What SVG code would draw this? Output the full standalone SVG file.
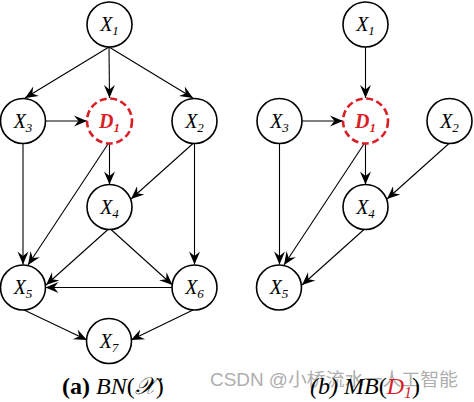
<svg xmlns="http://www.w3.org/2000/svg" width="474" height="402" viewBox="0 0 474 402">
<defs>
<marker id="ah" markerUnits="userSpaceOnUse" markerWidth="16" markerHeight="14" viewBox="-14 -7 16 14" refX="0" refY="0" orient="auto">
<path d="M0,0 L-13,-5.5 L-8.5,0 L-13,5.5 Z" fill="#000"/>
</marker>
</defs>
<style>
.n{fill:#fff;stroke:#000;stroke-width:1.6}
.d{fill:#fff;stroke:#d91f26;stroke-width:2.6;stroke-dasharray:7 3.6}
.l{font-family:"Liberation Serif",serif;font-style:italic;font-size:20px;fill:#000;text-anchor:middle}
.dl{font-family:"Liberation Serif",serif;font-style:italic;font-weight:bold;font-size:20px;fill:#d91f26;text-anchor:middle}
.s{font-size:13px}
.e line{stroke:#000;stroke-width:1.1;marker-end:url(#ah)}
.cap{font-family:"Liberation Serif",serif;font-size:24px;fill:#000}
</style>
<rect width="474" height="402" fill="#fff"/>
<g class="e" id="connectors">
<line x1="109" y1="47" x2="25" y2="98"/>
<line x1="109" y1="47" x2="109.5" y2="98"/>
<line x1="109" y1="47" x2="193" y2="98"/>
<line x1="45.5" y1="121" x2="87" y2="121"/>
<line x1="23" y1="143.5" x2="23" y2="264.5"/>
<line x1="109.5" y1="143.5" x2="109.5" y2="184.5"/>
<line x1="108" y1="144" x2="28" y2="265"/>
<line x1="193" y1="143.5" x2="131" y2="199"/>
<line x1="194.5" y1="143.5" x2="194.5" y2="264.5"/>
<line x1="108" y1="229.5" x2="46" y2="285"/>
<line x1="111" y1="229.5" x2="172.5" y2="285"/>
<line x1="172" y1="287.5" x2="45.5" y2="287.5"/>
<line x1="23" y1="309.5" x2="87" y2="340"/>
<line x1="193" y1="310" x2="131" y2="340"/>
<line x1="365.5" y1="47" x2="365.5" y2="98"/>
<line x1="302" y1="121" x2="343" y2="121"/>
<line x1="279.5" y1="143.5" x2="279.5" y2="264.5"/>
<line x1="365.5" y1="143.5" x2="365.5" y2="184.5"/>
<line x1="364" y1="144" x2="284" y2="265"/>
<line x1="449" y1="143.5" x2="387" y2="199"/>
<line x1="364" y1="229.5" x2="302" y2="285"/>
</g>
<g id="a_X1"><circle class="n" cx="109.5" cy="24.5" r="22.5"/><text class="l" x="109.5" y="31">X<tspan class="s" dy="4">1</tspan></text></g>
<g id="a_X3"><circle class="n" cx="23" cy="121" r="22.5"/><text class="l" x="23" y="127.5">X<tspan class="s" dy="4">3</tspan></text></g>
<g id="a_D1"><circle class="d" cx="109.5" cy="121" r="22.5"/><text class="dl" x="109.5" y="127.5">D<tspan class="s" dy="4">1</tspan></text></g>
<g id="a_X2"><circle class="n" cx="194.5" cy="121" r="22.5"/><text class="l" x="194.5" y="127.5">X<tspan class="s" dy="4">2</tspan></text></g>
<g id="a_X4"><circle class="n" cx="109.5" cy="207" r="22.5"/><text class="l" x="109.5" y="213.5">X<tspan class="s" dy="4">4</tspan></text></g>
<g id="a_X5"><circle class="n" cx="23" cy="287.5" r="22.5"/><text class="l" x="23" y="294">X<tspan class="s" dy="4">5</tspan></text></g>
<g id="a_X6"><circle class="n" cx="194.5" cy="287.5" r="22.5"/><text class="l" x="194.5" y="294">X<tspan class="s" dy="4">6</tspan></text></g>
<g id="a_X7"><circle class="n" cx="109" cy="341" r="22.5"/><text class="l" x="109" y="347.5">X<tspan class="s" dy="4">7</tspan></text></g>
<g id="b_X1"><circle class="n" cx="365.5" cy="24.5" r="22.5"/><text class="l" x="365.5" y="31">X<tspan class="s" dy="4">1</tspan></text></g>
<g id="b_X3"><circle class="n" cx="279.5" cy="121" r="22.5"/><text class="l" x="279.5" y="127.5">X<tspan class="s" dy="4">3</tspan></text></g>
<g id="b_D1"><circle class="d" cx="365.5" cy="121" r="22.5"/><text class="dl" x="365.5" y="127.5">D<tspan class="s" dy="4">1</tspan></text></g>
<g id="b_X2"><circle class="n" cx="449.5" cy="121" r="22.5"/><text class="l" x="449.5" y="127.5">X<tspan class="s" dy="4">2</tspan></text></g>
<g id="b_X4"><circle class="n" cx="365.5" cy="207" r="22.5"/><text class="l" x="365.5" y="213.5">X<tspan class="s" dy="4">4</tspan></text></g>
<g id="b_X5"><circle class="n" cx="279" cy="287.5" r="22.5"/><text class="l" x="279" y="294">X<tspan class="s" dy="4">5</tspan></text></g>
<g id="captions">
<text class="cap" x="62" y="394"><tspan font-weight="bold">(a)</tspan> <tspan font-style="italic">BN</tspan>(<tspan font-style="italic">𝒳</tspan>)</text>
<text x="210" y="386" font-family="Liberation Sans,'Noto Sans CJK SC',sans-serif" font-size="18" fill="#9a9a9a" textLength="248" lengthAdjust="spacingAndGlyphs" opacity="0.8">CSDN @小桥流水一人工智能</text>
<text class="cap" x="310" y="394"><tspan font-style="italic">(b) MB</tspan>(<tspan font-style="italic" fill="#d91f26">D<tspan font-size="16" dy="4">1</tspan></tspan><tspan dy="-4">)</tspan></text>
</g>
</svg>
